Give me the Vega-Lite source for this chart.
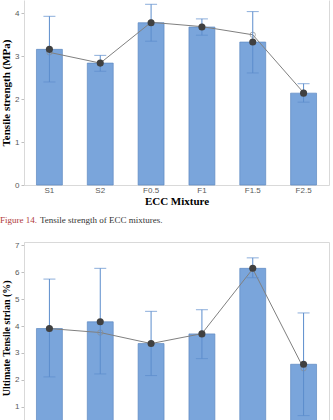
{
  "$schema": "https://vega.github.io/schema/vega-lite/v6.json",
  "background": "white",
  "padding": 0,
  "datasets": {
    "tensile": [
      {"mix": "S1", "mean": 3.16, "lo": 2.40, "hi": 3.93, "fit": 3.09},
      {"mix": "S2", "mean": 2.84, "lo": 2.65, "hi": 3.02, "fit": 2.84},
      {"mix": "F0.5", "mean": 3.78, "lo": 3.35, "hi": 4.21, "fit": 3.79},
      {"mix": "F1", "mean": 3.68, "lo": 3.49, "hi": 3.87, "fit": 3.69},
      {"mix": "F1.5", "mean": 3.33, "lo": 2.61, "hi": 4.04, "fit": 3.50},
      {"mix": "F2.5", "mean": 2.14, "lo": 1.93, "hi": 2.36, "fit": 2.15}
    ],
    "strain": [
      {"mix": "S1", "mean": 3.91, "lo": 2.11, "hi": 5.75, "fit": 3.91},
      {"mix": "S2", "mean": 4.16, "lo": 2.22, "hi": 6.15, "fit": 3.76},
      {"mix": "F0.5", "mean": 3.35, "lo": 2.16, "hi": 4.55, "fit": 3.35},
      {"mix": "F1", "mean": 3.71, "lo": 2.79, "hi": 4.61, "fit": 3.72},
      {"mix": "F1.5", "mean": 6.15, "lo": 5.80, "hi": 6.54, "fit": 6.13},
      {"mix": "F2.5", "mean": 2.58, "lo": 0.67, "hi": 4.49, "fit": 2.43}
    ]
  },
  "config": {
    "view": {"stroke": null},
    "axis": {
      "labelFont": "Liberation Sans",
      "labelFontSize": 8,
      "labelColor": "#595959",
      "domainColor": "#d9d9d9",
      "tickColor": "#bfbfbf",
      "titleFont": "Liberation Serif",
      "titleFontWeight": "bold",
      "titleColor": "#000000",
      "grid": false
    },
    "title": {"font": "Liberation Serif", "fontSize": 9, "fontWeight": "normal", "anchor": "start", "frame": "group", "offset": 0}
  },
  "spacing": 10,
  "vconcat": [
    {
      "data": {"name": "tensile"},
      "width": 305,
      "height": 185,
      "encoding": {
        "x": {
          "field": "mix", "type": "nominal", "sort": null,
          "scale": {"paddingInner": 0.49, "paddingOuter": 0.245},
          "axis": {"title": "ECC Mixture", "labelAngle": 0, "ticks": false, "labelPadding": 1, "titleFontSize": 11, "titlePadding": 1}
        }
      },
      "layer": [
        {
          "mark": {"type": "bar", "color": "#7aa5db", "stroke": "#5f89c2", "strokeWidth": 0.7},
          "encoding": {
            "y": {
              "field": "mean", "type": "quantitative",
              "scale": {"domain": [0, 4.31], "nice": false},
              "axis": {"title": "Tensile strength (MPa)", "values": [0, 1, 2, 3, 4], "tickSize": 3, "labelPadding": 2, "titlePadding": 3, "titleFontSize": 11, "labelOverlap": false}
            }
          }
        },
        {
          "mark": {"type": "line", "color": "#808080", "strokeWidth": 1},
          "encoding": {"y": {"field": "fit", "type": "quantitative", "axis": null}}
        },
        {
          "mark": {"type": "point", "shape": "circle", "filled": false, "color": "#8c8c8c", "size": 28, "strokeWidth": 1},
          "encoding": {"y": {"field": "fit", "type": "quantitative", "axis": null}}
        },
        {
          "mark": {"type": "rule", "color": "#5b8ccc", "strokeWidth": 1},
          "encoding": {"y": {"field": "lo", "type": "quantitative", "axis": null}, "y2": {"field": "hi"}}
        },
        {
          "mark": {"type": "tick", "color": "#5b8ccc", "thickness": 1},
          "encoding": {"y": {"field": "hi", "type": "quantitative", "axis": null}, "size": {"value": 12}}
        },
        {
          "mark": {"type": "tick", "color": "#5b8ccc", "thickness": 1},
          "encoding": {"y": {"field": "lo", "type": "quantitative", "axis": null}, "size": {"value": 12}}
        },
        {
          "mark": {"type": "circle", "color": "#404040", "opacity": 1, "size": 50},
          "encoding": {"y": {"field": "mean", "type": "quantitative", "axis": null}}
        },
        {
          "mark": {"type": "rule", "opacity": 0},
          "encoding": {
            "y": {
              "field": "mean", "type": "quantitative",
              "axis": {"orient": "right", "labels": false, "ticks": false, "title": null, "domainColor": "#d9d9d9"}
            }
          }
        }
      ],
      "resolve": {"axis": {"y": "independent"}}
    },
    {
      "spacing": 3,
      "hconcat": [
        {
          "width": 1,
          "height": 1,
          "data": {"values": [{}]},
          "mark": {"type": "rect", "opacity": 0},
          "encoding": {},
          "title": {"text": "Figure 14.", "color": "#b03a3a", "dx": -24}
        },
        {
          "width": 1,
          "height": 1,
          "data": {"values": [{}]},
          "mark": {"type": "rect", "opacity": 0},
          "encoding": {},
          "title": {"text": "Tensile strength of ECC mixtures.", "color": "#333333", "dx": -24}
        }
      ]
    },
    {
      "data": {"name": "strain"},
      "width": 305,
      "height": 191.6,
      "view": {"stroke": "#d9d9d9"},
      "encoding": {
        "x": {
          "field": "mix", "type": "nominal", "sort": null,
          "scale": {"paddingInner": 0.49, "paddingOuter": 0.245},
          "axis": {"title": "ECC Mixture", "labelAngle": 0, "ticks": false, "labelPadding": 3, "titleFontSize": 11, "titlePadding": 2}
        }
      },
      "layer": [
        {
          "mark": {"type": "bar", "color": "#7aa5db", "stroke": "#5f89c2", "strokeWidth": 0.7},
          "encoding": {
            "y": {
              "field": "mean", "type": "quantitative",
              "scale": {"domain": [0, 7.13], "nice": false},
              "axis": {"title": "Ultimate Tensile strian (%)", "values": [0, 1, 2, 3, 4, 5, 6, 7], "tickSize": 3, "labelPadding": 2, "titlePadding": 3, "titleFontSize": 10, "labelOverlap": false}
            }
          }
        },
        {
          "mark": {"type": "line", "color": "#808080", "strokeWidth": 1},
          "encoding": {"y": {"field": "fit", "type": "quantitative", "axis": null}}
        },
        {
          "mark": {"type": "point", "shape": "circle", "filled": false, "color": "#8c8c8c", "size": 28, "strokeWidth": 1},
          "encoding": {"y": {"field": "fit", "type": "quantitative", "axis": null}}
        },
        {
          "mark": {"type": "rule", "color": "#5b8ccc", "strokeWidth": 1},
          "encoding": {"y": {"field": "lo", "type": "quantitative", "axis": null}, "y2": {"field": "hi"}}
        },
        {
          "mark": {"type": "tick", "color": "#5b8ccc", "thickness": 1},
          "encoding": {"y": {"field": "hi", "type": "quantitative", "axis": null}, "size": {"value": 12}}
        },
        {
          "mark": {"type": "tick", "color": "#5b8ccc", "thickness": 1},
          "encoding": {"y": {"field": "lo", "type": "quantitative", "axis": null}, "size": {"value": 12}}
        },
        {
          "mark": {"type": "circle", "color": "#404040", "opacity": 1, "size": 50},
          "encoding": {"y": {"field": "mean", "type": "quantitative", "axis": null}}
        }
      ],
      "resolve": {"axis": {"y": "independent"}}
    }
  ]
}
